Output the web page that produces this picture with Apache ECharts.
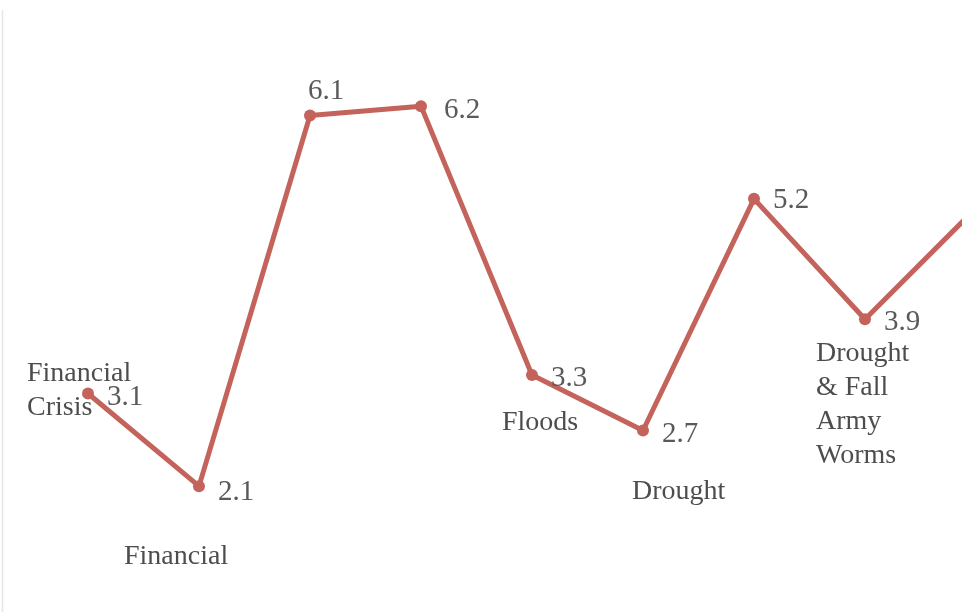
<!DOCTYPE html>
<html>
<head>
<meta charset="utf-8">
<script src="https://cdn.jsdelivr.net/npm/echarts@6/dist/echarts.min.js"></script>
<style>
html,body{margin:0;padding:0;background:#fff;}
#chart{width:962px;height:612px;}
</style>
</head>
<body>
<div id="chart"></div>
<script>
// Data
var categories = ["P1", "P2", "P3", "P4", "P5", "P6", "P7", "P8", "P9"];
var values = [3.1, 2.1, 6.1, 6.2, 3.3, 2.7, 5.2, 3.9, 5.1];
var annotations = ["Financial\nCrisis", "Financial", "", "", "Floods", "Drought", "", "Drought\n& Fall\nArmy\nWorms", ""];

// Layout (label placement, not data)
var annotationOffsets = [[-61, -3], [-75, 71], [0, 0], [0, 0], [-30, 48], [-11, 61], [0, 0], [-49, 85], [0, 0]];
var valueLabelOffsets = [[0, 4], [0, 6], [-21, -24], [4, 4], [0, 3], [0, 4], [0, 2], [0, 3], [0, 2]];

var lineColor = '#c4635b';
var serif = '"Liberation Serif", "Times New Roman", serif';

// categories are laid out at index positions on a value x-axis so the
// visible window can end part-way between two categories
var lineData = values.map(function (v, i) {
  return {
    name: categories[i],
    value: [i, v],
    label: { offset: valueLabelOffsets[i] }
  };
});

var annData = values.map(function (v, i) {
  return {
    name: categories[i],
    value: [i, v],
    label: {
      show: annotations[i] !== '',
      formatter: annotations[i],
      offset: [annotationOffsets[i][0], annotationOffsets[i][1]]
    }
  };
});

var chart = echarts.init(document.getElementById('chart'), null, { renderer: 'canvas' });
chart.setOption({
  backgroundColor: '#ffffff',
  animation: false,
  grid: { left: 88, right: 0, top: 32, bottom: 0, containLabel: false },
  xAxis: {
    type: 'value',
    min: 0,
    max: 7.874,
    show: false
  },
  yAxis: {
    type: 'value',
    min: 0.742,
    max: 7,
    show: false
  },
  graphic: [{
    type: 'line',
    shape: { x1: 2.5, y1: 10, x2: 2.5, y2: 612 },
    style: { stroke: '#e6e6e6', lineWidth: 1.5 },
    silent: true
  }],
  series: [{
    type: 'line',
    data: lineData,
    symbol: 'circle',
    symbolSize: 12,
    lineStyle: { color: lineColor, width: 5 },
    itemStyle: { color: lineColor },
    label: {
      show: true,
      position: 'right',
      distance: 13,
      color: '#5a5a5a',
      fontFamily: serif,
      fontSize: 29,
      verticalAlign: 'middle',
      formatter: function (p) { return p.value[1]; }
    },
    z: 3
  }, {
    type: 'scatter',
    data: annData,
    symbolSize: 1,
    itemStyle: { color: 'rgba(0,0,0,0)' },
    label: {
      show: true,
      position: 'inside',
      align: 'left',
      verticalAlign: 'middle',
      color: '#202020',
      fontFamily: serif,
      fontSize: 28,
      lineHeight: 34
    },
    z: 4
  }]
});
</script>
</body>
</html>
